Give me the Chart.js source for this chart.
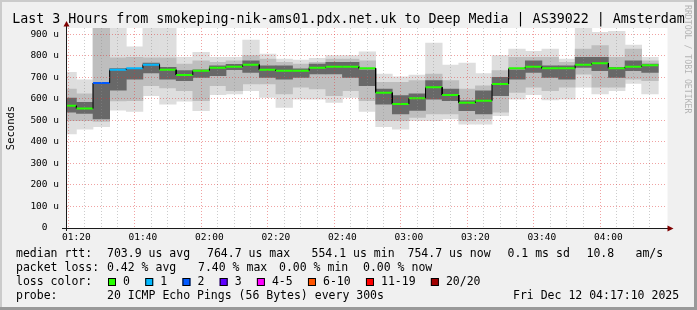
<!DOCTYPE html>
<html>
<head>
<meta charset="utf-8">
<title>Smokeping - Deep Media Amsterdam</title>
<script src="https://cdn.jsdelivr.net/npm/chart.js@4.4.1/dist/chart.umd.min.js"></script>
<style>
  html, body { margin: 0; padding: 0; background: #f0f0f0; }
  canvas { display: block; }
</style>
</head>
<body>
<canvas id="smokeChart" width="697" height="310"></canvas>
<script>
// Chart data (5 minute steps, values in microseconds)
const times = ['01:15', '01:20', '01:25', '01:30', '01:35', '01:40', '01:45', '01:50', '01:55',
    '02:00', '02:05', '02:10', '02:15', '02:20', '02:25', '02:30', '02:35', '02:40', '02:45', '02:50', '02:55',
    '03:00', '03:05', '03:10', '03:15', '03:20', '03:25', '03:30', '03:35', '03:40', '03:45', '03:50', '03:55',
    '04:00', '04:05', '04:10'];
const medianRtt = [567, 554.1, 673, 734, 741, 758, 734, 710, 730, 744, 748, 758, 734, 730, 730, 744, 748, 748,
    741, 628, 575, 602, 653, 617, 581, 591, 668, 741, 748, 741, 741, 758, 764.7, 741, 748, 754.7];
const lossCount = [0, 0, 2, 1, 1, 1, 0, 0, 0, 0, 0, 0, 0, 0, 0, 0, 0, 0,
    0, 0, 0, 0, 0, 0, 0, 0, 0, 0, 0, 0, 0, 0, 0, 0, 0, 0];
const smokeLow = [436, 459, 470, 547, 541, 614, 575, 588, 544, 619, 622, 637, 606, 560, 598, 598, 583, 606,
    541, 470, 459, 498, 498, 506, 482, 482, 521, 598, 619, 594, 598, 653, 622, 637, 671, 622];
const smokeHigh = [722, 687, 950, 950, 841, 950, 950, 792, 815, 792, 792, 872, 807, 784, 779, 787, 800, 800,
    818, 714, 702, 710, 858, 756, 765, 717, 800, 830, 820, 830, 784, 950, 908, 912, 849, 792];
const midLow = [498, 498, 495, 590, 591, 660, 650, 637, 591, 660, 637, 668, 668, 622, 653, 645, 614, 637,
    591, 498, 498, 513, 529, 529, 498, 506, 537, 629, 653, 637, 653, 714, 653, 653, 691, 684];
const midHigh = [645, 622, 945, 790, 792, 790, 790, 761, 776, 769, 776, 800, 784, 769, 761, 769, 784, 784,
    776, 676, 676, 684, 714, 684, 645, 660, 730, 792, 792, 792, 769, 830, 846, 792, 830, 776];
const coreLow = [537, 532, 506, 640, 691, 720, 690, 684, 699, 707, 735, 722, 699, 691, 699, 715, 715, 699,
    660, 575, 529, 545, 598, 591, 544, 529, 614, 691, 722, 699, 691, 745, 730, 699, 730, 722];
const coreHigh = [603, 583, 671, 740, 738, 765, 745, 730, 734, 753, 760, 776, 753, 753, 738, 761, 769, 769,
    734, 645, 614, 622, 684, 645, 591, 637, 699, 734, 776, 753, 753, 792, 792, 745, 776, 761];

const rangeStart = '01:17:10';
const rangeMinutes = 180;
const yMax = 928;

const lossLabels = ['0', '1', '2', '3', '4-5', '6-10', '11-19', '20/20'];
const lossColors = ['#26ff00', '#00b8ff', '#0059ff', '#5e00ff', '#ff00ff', '#ff5500', '#ff0000', '#a10000'];

const titleText = 'Last 3 Hours from smokeping-nik-ams01.pdx.net.uk to Deep Media | AS39022 | Amsterdam';
const rttStats = ['median rtt:', '703.9 us avg', '764.7 us max', '554.1 us min', '754.7 us now', '0.1 ms sd', '10.8', 'am/s'];
const lossStats = ['packet loss:', '0.42 % avg', '7.40 % max', '0.00 % min', '0.00 % now'];
const probeInfo = ['probe:', '20 ICMP Echo Pings (56 Bytes) every 300s', 'Fri Dec 12 04:17:10 2025'];

const STEP = 5;
const MONO = '"DejaVu Sans Mono", monospace';

function toMinutes(t) {
    const [h, m, s] = t.split(':').map(Number);
    return h * 60 + m + (s || 0) / 60;
}

function formatTime(v) {
    const h = Math.floor(v / 60);
    const m = Math.round(v % 60);
    return String(h).padStart(2, '0') + ':' + String(m).padStart(2, '0');
}

function lossBucket(n) {
    if (n <= 3) return n;
    if (n <= 5) return 4;
    if (n <= 10) return 5;
    if (n <= 19) return 6;
    return 7;
}

// Floating bars for one smoke band
function band(lo, hi) {
    return times.map((t, i) => ({ x: toMinutes(t) + STEP / 2, y: [lo[i], hi[i]] }));
}

// Two points per slot for the stepped median line
function medianPoints() {
    const pts = [];
    times.forEach((t, i) => {
        const s = toMinutes(t);
        pts.push({ x: s, y: medianRtt[i] }, { x: s + STEP, y: medianRtt[i] });
    });
    return pts;
}

const xMin = toMinutes(rangeStart);
const xMax = xMin + rangeMinutes;

// Background, frame, axes and all the rrdtool text
const framePlugin = {
    id: 'frame',
    beforeDraw(chart) {
        const { ctx, chartArea: a, width, height } = chart;
        ctx.save();
        ctx.fillStyle = '#f0f0f0';
        ctx.fillRect(0, 0, width, height);
        ctx.fillStyle = '#ffffff';
        ctx.fillRect(a.left, a.top, a.right - a.left + 2, a.bottom - a.top);
        ctx.fillStyle = '#cbcbcb';
        ctx.fillRect(0, 0, width, 2);
        ctx.fillRect(0, 0, 2, height);
        ctx.fillStyle = '#999999';
        ctx.fillRect(0, height - 3, width, 3);
        ctx.fillRect(width - 3, 0, 3, height);
        ctx.restore();
    },
    afterDraw(chart) {
        const { ctx, chartArea: a } = chart;
        ctx.save();

        // axes
        const y0 = Math.round(a.bottom) + 0.5;
        const x0 = Math.round(a.left) - 0.5;
        ctx.strokeStyle = '#1a1a1a';
        ctx.lineWidth = 1;
        ctx.beginPath();
        ctx.moveTo(a.left - 5, y0);
        ctx.lineTo(a.right + 3, y0);
        ctx.moveTo(x0, a.bottom + 3);
        ctx.lineTo(x0, a.top - 2);
        ctx.stroke();
        ctx.fillStyle = '#7f0000';
        ctx.beginPath();
        ctx.moveTo(x0, a.top - 7);
        ctx.lineTo(x0 - 3, a.top - 1.5);
        ctx.lineTo(x0 + 3, a.top - 1.5);
        ctx.closePath();
        ctx.fill();
        ctx.beginPath();
        ctx.moveTo(a.right + 8, y0);
        ctx.lineTo(a.right + 2, y0 - 3);
        ctx.lineTo(a.right + 2, y0 + 3);
        ctx.closePath();
        ctx.fill();

        // title
        ctx.fillStyle = '#000000';
        ctx.font = '13.3px ' + MONO;
        ctx.textAlign = 'center';
        ctx.textBaseline = 'alphabetic';
        ctx.fillText(titleText, chart.width / 2, 23);

        // legend block
        ctx.textAlign = 'left';
        ctx.font = '11.5px ' + MONO;
        const rttX = [16, 107, 207, 311.5, 407.5, 507.5, 586.5, 635.5];
        rttStats.forEach((s, i) => ctx.fillText(s, rttX[i], 257));
        const lossX = [16, 107, 198, 279, 363];
        lossStats.forEach((s, i) => ctx.fillText(s, lossX[i], 271));
        ctx.fillText('loss color:', 16, 285);
        let bx = 108;
        lossLabels.forEach((label, i) => {
            ctx.fillStyle = lossColors[i];
            ctx.fillRect(bx, 278, 8, 8);
            ctx.strokeStyle = '#000000';
            ctx.strokeRect(bx + 0.5, 278.5, 7, 7);
            ctx.fillStyle = '#000000';
            ctx.fillText(label, bx + 15, 285);
            bx += 15 + ctx.measureText(label).width + 15.3;
        });
        ctx.fillText(probeInfo[0], 16, 299);
        ctx.fillText(probeInfo[1], 107, 299);
        ctx.fillText(probeInfo[2], 513, 299);

        // watermark
        ctx.translate(685, 5);
        ctx.rotate(Math.PI / 2);
        ctx.font = '8.2px ' + MONO;
        ctx.fillStyle = '#b4b4b4';
        ctx.fillText('RRDTOOL / TOBI OETIKER', 0, 0);
        ctx.restore();
    }
};

const minorGrid = 'rgba(143, 143, 143, 0.45)';
const majorGrid = 'rgba(222, 48, 48, 0.45)';

new Chart(document.getElementById('smokeChart'), {
    type: 'bar',
    data: {
        datasets: [
            {
                type: 'line',
                data: medianPoints(),
                pointRadius: 0,
                borderColor: '#000000',
                borderWidth: 1,
                segment: {
                    borderColor: c => c.p0DataIndex % 2 === 0
                        ? lossColors[lossBucket(lossCount[c.p0DataIndex / 2])] : '#000000',
                    borderWidth: c => c.p0DataIndex % 2 === 0 ? 2 : 1,
                },
            },
            { data: band(coreLow, coreHigh), backgroundColor: '#686868' },
            { data: band(midLow, midHigh), backgroundColor: '#bebebe' },
            { data: band(smokeLow, smokeHigh), backgroundColor: '#dedede' },
        ],
    },
    options: {
        responsive: false,
        animation: false,
        devicePixelRatio: 1,
        layout: { padding: { top: 28, right: 31.5, bottom: 70, left: 0 } },
        datasets: {
            bar: { grouped: false, barPercentage: 1, categoryPercentage: 1, borderWidth: 0 },
        },
        plugins: {
            legend: { display: false },
            tooltip: { enabled: false },
        },
        scales: {
            x: {
                type: 'linear',
                min: xMin,
                max: xMax,
                offset: false,
                afterBuildTicks: s => {
                    const ticks = [];
                    for (let v = Math.ceil(xMin / STEP) * STEP; v < xMax; v += STEP) ticks.push({ value: v });
                    s.ticks = ticks;
                },
                afterFit: s => { s.height = 12; },
                grid: {
                    color: c => (c.tick && c.tick.value % 20 === 0 ? majorGrid : minorGrid),
                    drawTicks: false,
                    z: 1,
                },
                border: { display: false, dash: [1, 2] },
                ticks: {
                    autoSkip: false,
                    maxRotation: 0,
                    padding: 4,
                    color: '#000000',
                    font: { family: MONO, size: 9.5 },
                    callback: v => (v % 20 === 0 ? formatTime(v) : ''),
                },
            },
            y: {
                min: 0,
                max: yMax,
                afterBuildTicks: s => {
                    const ticks = [];
                    for (let v = 0; v <= 900; v += 50) ticks.push({ value: v });
                    s.ticks = ticks;
                },
                afterFit: s => { s.width = 67; },
                grid: {
                    color: c => (c.tick && c.tick.value % 100 === 0 ? majorGrid : minorGrid),
                    drawTicks: false,
                    z: 1,
                },
                border: { display: false, dash: [1, 2] },
                title: {
                    display: true,
                    text: 'Seconds',
                    color: '#000000',
                    font: { family: MONO, size: 10.5 },
                    padding: { top: 5, bottom: 0 },
                },
                ticks: {
                    padding: 8,
                    color: '#000000',
                    font: { family: MONO, size: 9.5 },
                    callback: v => (v % 100 !== 0 ? '' : v === 0 ? '0  ' : v + ' u'),
                },
            },
        },
    },
    plugins: [framePlugin],
});
</script>
</body>
</html>
